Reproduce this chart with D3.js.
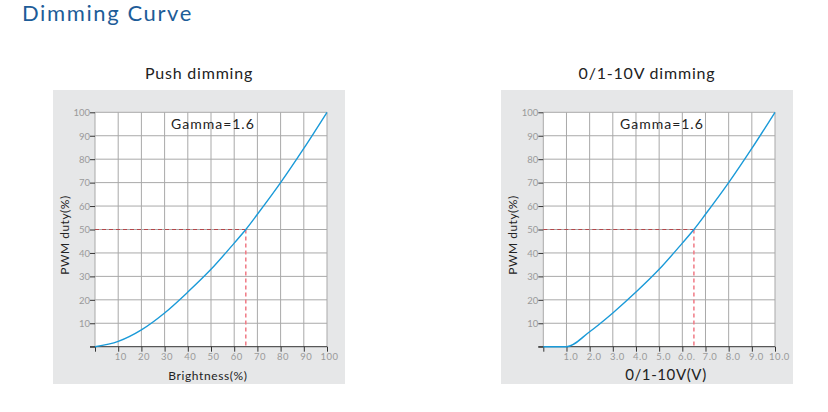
<!DOCTYPE html>
<html><head><meta charset="utf-8">
<script src="https://cdn.jsdelivr.net/npm/d3@7"></script>
<style>body{margin:0;background:#fff;} svg{display:block;font-family:Lato,"Open Sans",sans-serif;}</style>
</head><body>
<svg id="c" width="828" height="412"></svg>
<script>
// ---- data ----
const pushX = [0,10,20,30,40,50,60,65,70,80,90,100];
const pushY = [0,2.3,7.2,14.4,23.3,33,44.2,50,56.5,70,84.6,100];
const voltX = [0,1,2,3,4,5,6,6.5,7,8,9,10];
const voltY = [0,0,6.4,14.4,23.3,33,44.2,50,56.5,70,84.6,100];
const yTicks = [10,20,30,40,50,60,70,80,90,100];
const pushTicks = [10,20,30,40,50,60,70,80,90,100];
const pushTickLabels = ["10","20","30","40","50","60","70","80","90","100"];
const voltTicks = [1,2,3,4,5,6,7,8,9,10];
const voltTickLabels = ["1.0","2.0","3.0","4.0","5.0","6.0.","7.0","8.0","9.0","10.0"];
const pushMark = [65,50];
const voltMark = [6.5,50];

const svg = d3.select("#c");
svg.append("text").attr("x",22).attr("y",21).attr("fill","#1d5c98")
  .attr("font-size",22).attr("letter-spacing",1.6).text("Dimming Curve");

function panel(o){
  const g = svg.append("g");
  g.append("rect").attr("x",o.gx).attr("y",90).attr("width",292).attr("height",294).attr("fill","#e6e7e8");
  g.append("text").attr("x",o.gx+146).attr("y",79).attr("text-anchor","middle")
    .attr("font-size",16).attr("fill","#222").attr("letter-spacing",0.8).text(o.title);
  const x = d3.scaleLinear().domain(o.dom).range([o.px0,o.px1]);
  const y = d3.scaleLinear().domain([0,100]).range([346.7,112.3]);
  g.append("rect").attr("x",o.px0).attr("y",112.3).attr("width",o.px1-o.px0).attr("height",346.7-112.3).attr("fill","#fff");
  // grid
  g.selectAll(".hg").data(yTicks).join("line").attr("x1",o.px0).attr("x2",o.px1)
    .attr("y1",d=>y(d)).attr("y2",d=>y(d)).attr("stroke","#a9a9a9").attr("stroke-width",1);
  g.selectAll(".vg").data([o.dom[0]].concat(o.ticks)).join("line").attr("y1",112.3).attr("y2",346.7)
    .attr("x1",d=>x(d)).attr("x2",d=>x(d)).attr("stroke","#a9a9a9").attr("stroke-width",1);
  // y axis
  const ya = d3.axisLeft(y).tickValues([0].concat(yTicks)).tickSize(5).tickFormat(d=>d===0?"":d);
  const yg = g.append("g").attr("transform",`translate(${o.px0},0)`).call(ya);
  yg.select(".domain").remove();
  yg.selectAll(".tick line").attr("stroke","#333");
  yg.selectAll(".tick text").attr("fill","#9a9a9a").attr("font-size",9.5).attr("font-family","Lato,sans-serif").attr("x",-5).attr("dy","0.35em");
  // x axis
  const xa = d3.axisBottom(x).tickValues([o.dom[0]].concat(o.ticks)).tickSize(5)
    .tickFormat((d,i)=> i===0?"":o.labels[i-1]);
  const xg = g.append("g").attr("transform",`translate(0,346.7)`).call(xa);
  xg.select(".domain").remove();
  xg.append("line").attr("x1",o.px0-5).attr("x2",o.px1).attr("y1",0).attr("y2",0).attr("stroke","#333");
  xg.selectAll(".tick line").attr("stroke","#333");
  xg.selectAll(".tick text").attr("fill","#9a9a9a").attr("font-size",9.5).attr("font-family","Lato,sans-serif")
    .attr("dx",o.ldx).attr("y",7).attr("letter-spacing",0.5);
  // dashed markers
  g.append("line").attr("x1",o.px0).attr("x2",x(o.mark[0])).attr("y1",y(o.mark[1])).attr("y2",y(o.mark[1]))
    .attr("stroke","#b5474a").attr("stroke-width",1).attr("stroke-dasharray","4,3");
  g.append("line").attr("x1",x(o.mark[0])).attr("x2",x(o.mark[0])).attr("y1",y(o.mark[1])).attr("y2",346.7)
    .attr("stroke","#f07a85").attr("stroke-width",1.5).attr("stroke-dasharray","4,3");
  // curve
  const pts = o.xs.map((v,i)=>[v,o.ys[i]]);
  g.append("path").datum(pts).attr("fill","none").attr("stroke","#1a9ad8").attr("stroke-width",1.4)
    .attr("d",d3.line().x(d=>x(d[0])).y(d=>y(d[1])).curve(d3.curveMonotoneX));
  // labels
  g.append("text").attr("x",o.gammaX).attr("y",129).attr("font-size",14).attr("fill","#222")
    .attr("letter-spacing",1).text("Gamma=1.6");
  g.append("text").attr("transform",`translate(${o.ytx},235) rotate(-90)`).attr("text-anchor","middle")
    .attr("font-size",12).attr("fill","#222").attr("letter-spacing",0.5).text("PWM duty(%)");
  g.append("text").attr("x",o.xtx).attr("y",380).attr("text-anchor","middle")
    .attr("font-size",o.xtSize).attr("fill","#222").attr("letter-spacing",0.6).text(o.xtitle);
}

panel({gx:53,title:"Push dimming",dom:[0,100],px0:95,px1:327,ticks:pushTicks,labels:pushTickLabels,
  xs:pushX,ys:pushY,mark:pushMark,gammaX:171,ytx:69,xtx:208,xtitle:"Brightness(%)",xtSize:12,ldx:2});
panel({gx:501,title:"0/1-10V dimming",dom:[0,10],px0:543.3,px1:775,ticks:voltTicks,labels:voltTickLabels,
  xs:voltX,ys:voltY,mark:voltMark,gammaX:620,ytx:517,xtx:666,xtitle:"0/1-10V(V)",xtSize:15,ldx:4});
</script>
</body></html>
